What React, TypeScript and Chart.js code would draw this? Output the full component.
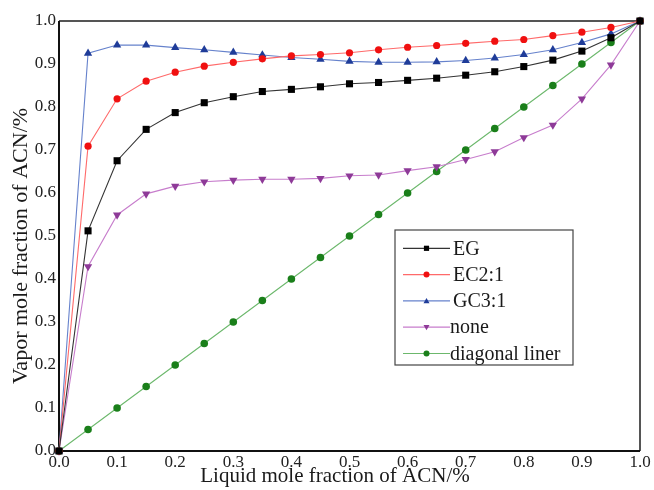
import React, { useEffect, useRef } from "react";
import { Chart, registerables } from "chart.js";

Chart.register(...registerables);

const xValues = [0, 0.05, 0.1, 0.15, 0.2, 0.25, 0.3, 0.35, 0.4, 0.45, 0.5, 0.55, 0.6, 0.65, 0.7, 0.75, 0.8, 0.85, 0.9, 0.95, 1.0];
const egValues = [0, 0.512, 0.675, 0.748, 0.787, 0.81, 0.824, 0.836, 0.841, 0.847, 0.854, 0.857, 0.862, 0.867, 0.874, 0.882, 0.894, 0.909, 0.93, 0.961, 1.0];
const ecValues = [0, 0.709, 0.819, 0.86, 0.881, 0.895, 0.904, 0.912, 0.919, 0.922, 0.926, 0.933, 0.939, 0.943, 0.948, 0.953, 0.957, 0.966, 0.974, 0.985, 1.0];
const gcValues = [0, 0.925, 0.944, 0.944, 0.938, 0.933, 0.927, 0.921, 0.915, 0.911, 0.906, 0.904, 0.904, 0.905, 0.908, 0.914, 0.922, 0.933, 0.95, 0.97, 1.0];
const noneValues = [0, 0.429, 0.549, 0.598, 0.616, 0.626, 0.63, 0.632, 0.632, 0.634, 0.64, 0.642, 0.652, 0.661, 0.678, 0.696, 0.729, 0.758, 0.819, 0.898, 1.0];
const diagValues = [0, 0.05, 0.1, 0.15, 0.2, 0.25, 0.3, 0.35, 0.4, 0.45, 0.5, 0.55, 0.6, 0.65, 0.7, 0.75, 0.8, 0.85, 0.9, 0.95, 1.0];

const seriesLabels = ["EG", "EC2:1", "GC3:1", "none", "diagonal liner"];
const xTitle = "Liquid mole fraction of ACN/%";
const yTitle = "Vapor mole fraction of ACN/%";

const SERIF = "'Liberation Serif', 'Times New Roman', serif";

type Style = { line: string; marker: string; shape: string; radius: number; rotation: number };
const styles: Style[] = [
  { line: "#333333", marker: "#000000", shape: "rect", radius: 5, rotation: 0 },
  { line: "#ff6a6a", marker: "#f01010", shape: "circle", radius: 3.6, rotation: 0 },
  { line: "#6682cc", marker: "#1f3c99", shape: "triangle", radius: 4.8, rotation: 0 },
  { line: "#c77dcc", marker: "#8e3a98", shape: "triangle", radius: 4.8, rotation: 180 },
  { line: "#6cb86c", marker: "#1a7f1a", shape: "circle", radius: 3.8, rotation: 0 },
];

const allValues = [egValues, ecValues, gcValues, noneValues, diagValues];

function drawMarker(ctx: CanvasRenderingContext2D, shape: string, rot: number, x: number, y: number, r: number) {
  ctx.beginPath();
  if (shape === "rect") {
    ctx.rect(x - r, y - r, 2 * r, 2 * r);
  } else if (shape === "circle") {
    ctx.arc(x, y, r, 0, Math.PI * 2);
  } else {
    const s = rot === 180 ? -1 : 1;
    ctx.moveTo(x, y - s * r);
    ctx.lineTo(x + r, y + s * r * 0.75);
    ctx.lineTo(x - r, y + s * r * 0.75);
    ctx.closePath();
  }
  ctx.fill();
}

const framePlugin = {
  id: "frame",
  beforeDatasetsDraw(chart: any) {
    const { ctx, chartArea } = chart;
    const { left, right, top, bottom } = chartArea;
    ctx.save();
    ctx.lineWidth = 2;
    ctx.strokeStyle = "#555555";
    ctx.beginPath();
    ctx.moveTo(left, top);
    ctx.lineTo(right, top);
    ctx.lineTo(right, bottom);
    ctx.stroke();
    ctx.strokeStyle = "#111111";
    ctx.beginPath();
    ctx.moveTo(left, top);
    ctx.lineTo(left, bottom);
    ctx.lineTo(right, bottom);
    ctx.stroke();
    ctx.restore();
  },
};

const titlePlugin = {
  id: "axisTitles",
  afterDraw(chart: any) {
    const { ctx } = chart;
    ctx.save();
    ctx.fillStyle = "#1a1a1a";
    ctx.textAlign = "center";
    ctx.textBaseline = "alphabetic";
    ctx.font = `21px ${SERIF}`;
    ctx.fillText(xTitle, 335, 482);
    ctx.translate(27, 246);
    ctx.rotate(-Math.PI / 2);
    ctx.font = `22px ${SERIF}`;
    ctx.fillText(yTitle, 0, 0);
    ctx.restore();
  },
};

const legendPlugin = {
  id: "boxLegend",
  afterDatasetsDraw(chart: any) {
    const { ctx } = chart;
    const boxL = 395, boxT = 230, boxR = 573, boxB = 365;
    ctx.save();
    ctx.fillStyle = "#ffffff";
    ctx.fillRect(boxL, boxT, boxR - boxL, boxB - boxT);
    ctx.lineWidth = 1.2;
    ctx.strokeStyle = "#444444";
    ctx.strokeRect(boxL, boxT, boxR - boxL, boxB - boxT);
    const rowTop = 248.3;
    const rowGap = 26.3;
    chart.data.datasets.forEach((ds: any, i: number) => {
      const st = styles[i];
      const y = rowTop + i * rowGap;
      ctx.strokeStyle = st.line;
      ctx.lineWidth = 1.2;
      ctx.beginPath();
      ctx.moveTo(403, y);
      ctx.lineTo(450, y);
      ctx.stroke();
      ctx.fillStyle = st.marker;
      drawMarker(ctx, st.shape, st.rotation, 426.5, y, st.shape === "rect" ? 2.6 : 3);
      ctx.fillStyle = "#1a1a1a";
      ctx.font = `20px ${SERIF}`;
      ctx.textBaseline = "middle";
      ctx.textAlign = "left";
      ctx.fillText(ds.label, i < 3 ? 453 : 450, y + 1);
    });
    ctx.restore();
  },
};

export default function App() {
  const ref = useRef<HTMLCanvasElement | null>(null);
  useEffect(() => {
    if (!ref.current) return;
    const datasets = allValues.map((vals, i) => {
      const st = styles[i];
      return {
        label: seriesLabels[i],
        data: xValues.map((x, j) => ({ x, y: vals[j] })),
        showLine: true,
        borderColor: st.line,
        borderWidth: 1.1,
        backgroundColor: st.marker,
        pointBackgroundColor: st.marker,
        pointBorderColor: st.marker,
        pointBorderWidth: 0,
        pointStyle: st.shape,
        pointRotation: st.rotation,
        pointRadius: st.radius,
        pointHoverRadius: st.radius,
        tension: 0,
        clip: false as any,
      };
    });
    const chart = new Chart(ref.current, {
      type: "scatter",
      data: { datasets },
      plugins: [framePlugin, legendPlugin, titlePlugin],
      options: {
        animation: false,
        responsive: false,
        maintainAspectRatio: false,
        layout: { padding: { left: 0, top: 21, right: 14, bottom: 0 } },
        plugins: { legend: { display: false }, tooltip: { enabled: false } },
        scales: {
          x: {
            type: "linear",
            min: 0,
            max: 1,
            afterFit: (s: any) => { s.height = 39; },
            grid: { display: false, drawTicks: false },
            border: { display: false },
            ticks: {
              stepSize: 0.1,
              padding: 1,
              color: "#222222",
              font: { family: SERIF, size: 17 },
              callback: (v: any) => Number(v).toFixed(1),
            },
          },
          y: {
            type: "linear",
            min: 0,
            max: 1,
            afterFit: (s: any) => { s.width = 59; },
            grid: { display: false, drawTicks: false },
            border: { display: false },
            ticks: {
              stepSize: 0.1,
              padding: 3,
              color: "#222222",
              font: { family: SERIF, size: 17 },
              callback: (v: any) => Number(v).toFixed(1),
            },
          },
        },
      },
    });
    return () => chart.destroy();
  }, []);
  return (
    <div style={{ position: "fixed", left: 0, top: 0, width: 654, height: 490, background: "#ffffff" }}>
      <canvas ref={ref} width={654} height={490} style={{ width: 654, height: 490, display: "block" }} />
    </div>
  );
}
